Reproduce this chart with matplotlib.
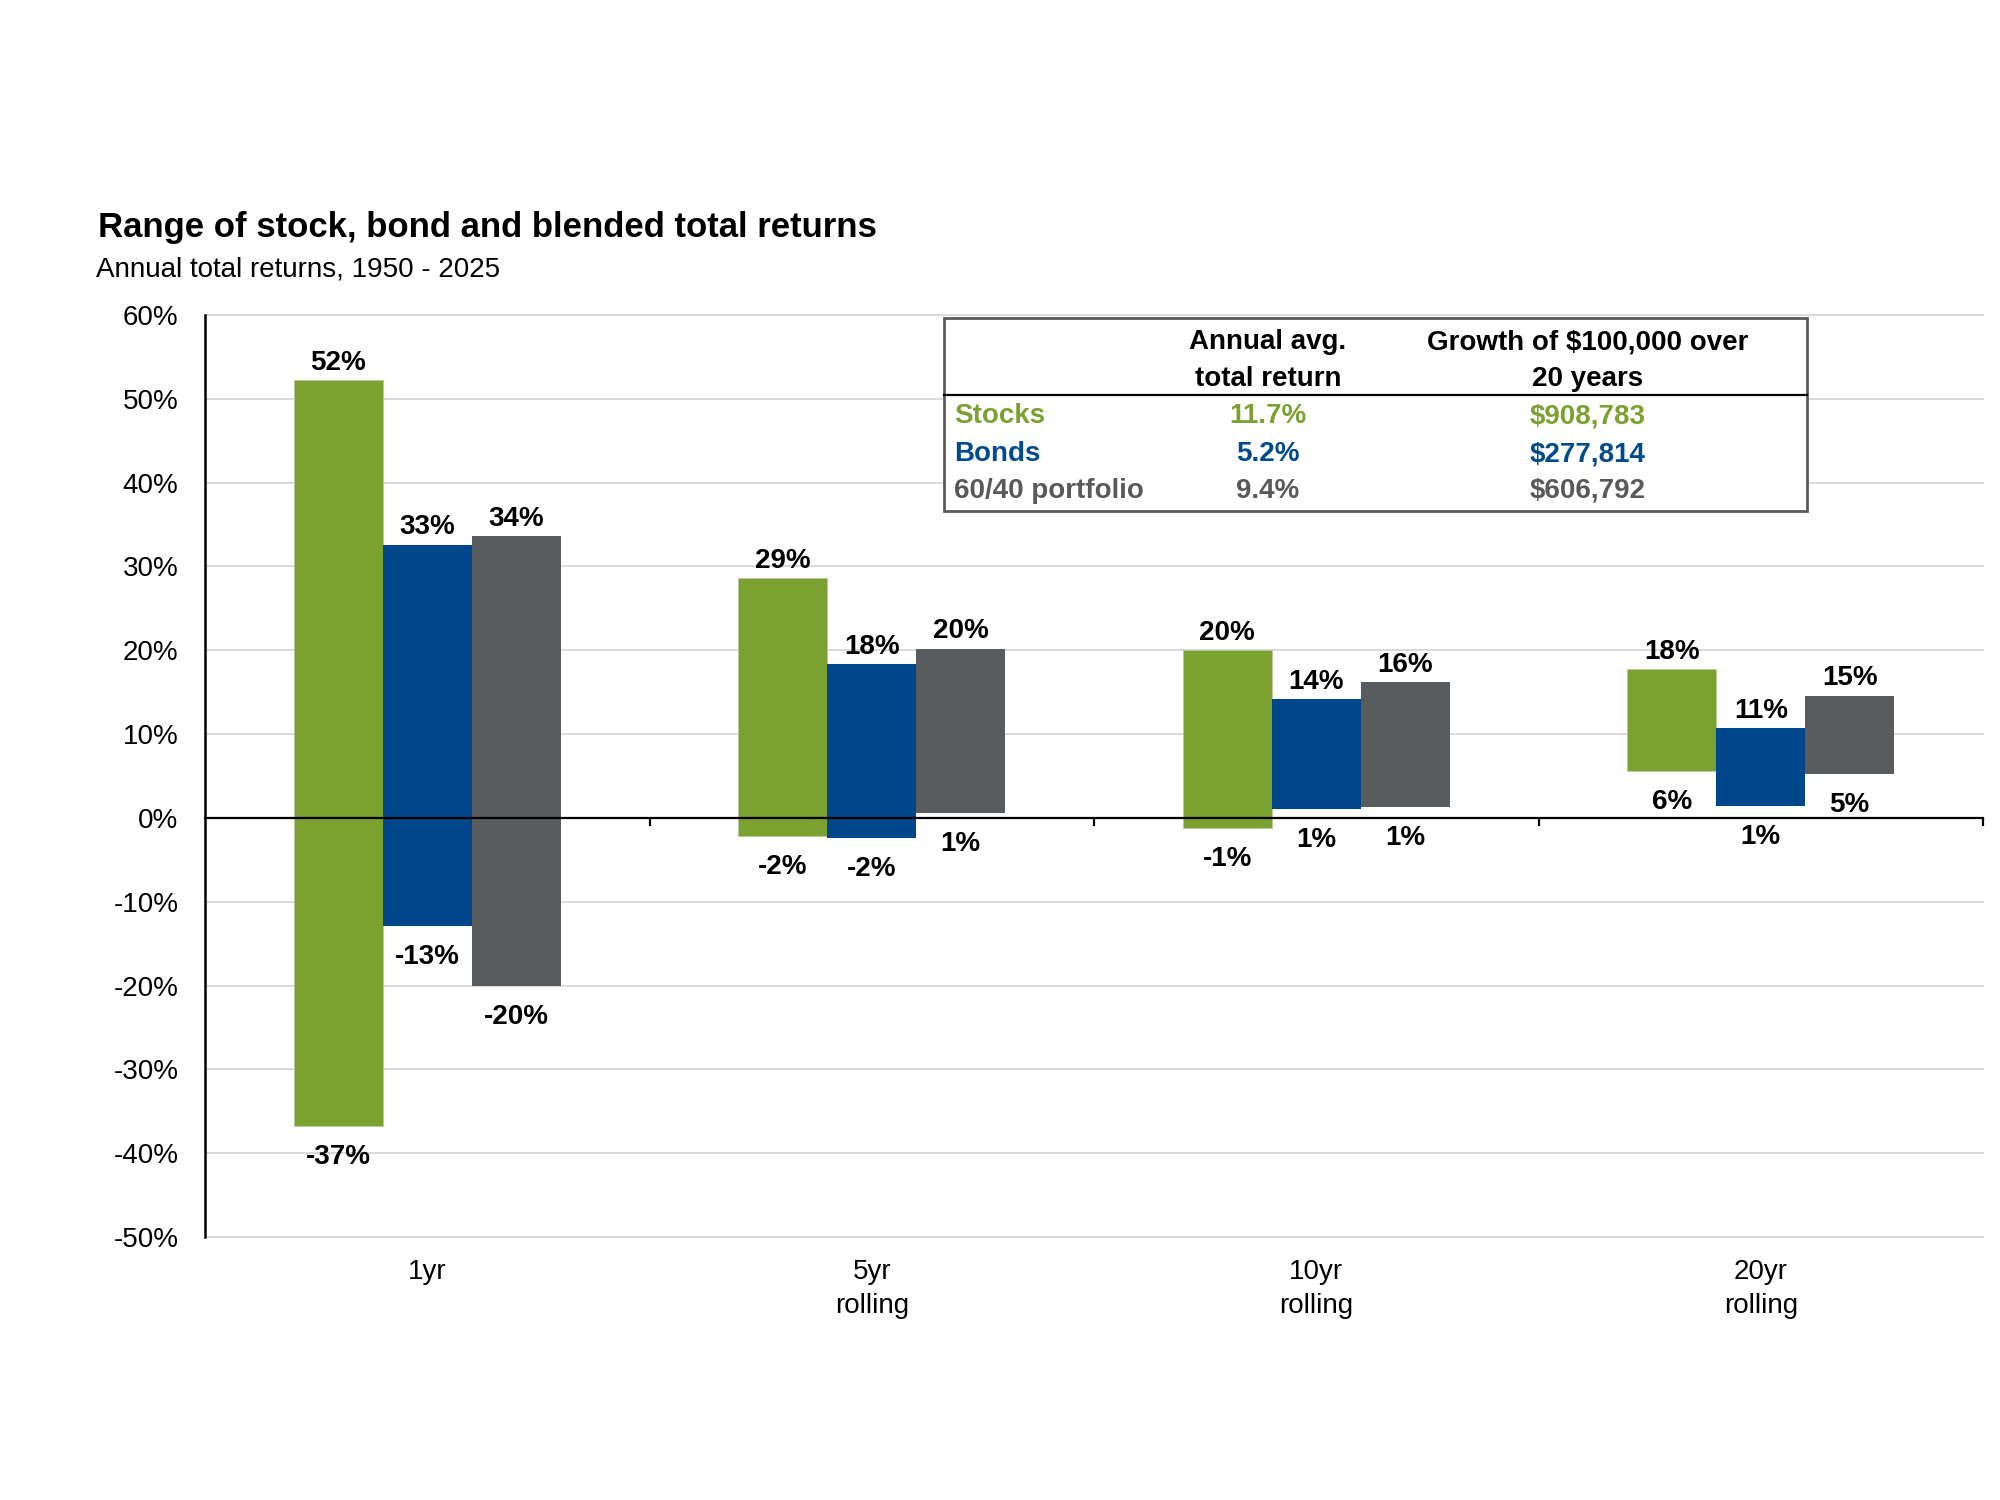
import numpy as np
import matplotlib.pyplot as plt
from matplotlib.patches import Rectangle
from matplotlib.lines import Line2D

plt.rcParams['font.family'] = ['Liberation Sans', 'DejaVu Sans']

# data (% annual total returns, 1950 - 2025)
categories = ["1yr", "5yr\nrolling", "10yr\nrolling", "20yr\nrolling"]
stocks_max = [52.2, 28.6, 20.0, 17.8]
stocks_min = [-36.8, -2.2, -1.2, 5.6]
bonds_max = [32.6, 18.4, 14.2, 10.7]
bonds_min = [-12.9, -2.4, 1.1, 1.4]
blend_max = [33.6, 20.2, 16.2, 14.6]
blend_min = [-20.1, 0.6, 1.3, 5.2]

series_names = ["Stocks", "Bonds", "60/40 portfolio"]
bar_colors = ["#7BA131", "#00468B", "#585C5F"]
text_colors = ["#7BA131", "#004A8F", "#595959"]

avg_returns = ["11.7%", "5.2%", "9.4%"]
growth_100k = ["$908,783", "$277,814", "$606,792"]

yticks = np.arange(-50, 61, 10)

W, H = 2000, 1500
fig = plt.figure(figsize=(20, 15), dpi=100, facecolor='white')
ax = fig.add_axes([205 / W, 1 - 1237 / H, (1983 - 205) / W, (1237 - 315) / H])

x = np.arange(len(categories))
bw = 0.2
highs = [stocks_max, bonds_max, blend_max]
lows = [stocks_min, bonds_min, blend_min]

for j in range(3):
    xs = x + (j - 1) * bw
    hi = np.array(highs[j])
    lo = np.array(lows[j])
    ax.bar(xs, hi - lo, bottom=lo, width=bw, color=bar_colors[j],
           edgecolor='#B8C8A0' if j == 0 else 'none', linewidth=0.6, zorder=3)
    for xi, h, l in zip(xs, hi, lo):
        ax.annotate(f"{h:.0f}%", (xi, h), xytext=(0, 3), textcoords='offset points',
                    ha='center', va='bottom', fontsize=20, fontweight='bold', zorder=4)
        ax.annotate(f"{l:.0f}%", (xi, l), xytext=(0, -13), textcoords='offset points',
                    ha='center', va='top', fontsize=20, fontweight='bold', zorder=4)

ax.set_xlim(-0.5, len(categories) - 0.5)
ax.set_ylim(-50, 60)
ax.set_yticks(yticks)
ax.set_yticklabels([f"{t}%" for t in yticks])
ax.tick_params(axis='y', length=0, pad=19, labelsize=20)
ax.yaxis.grid(True, color='#D9D9D9', linewidth=1.4, zorder=0)
for gl in ax.get_ygridlines():
    gl.set_clip_on(False)

# zero line with category boundary ticks
ax.spines['bottom'].set_position(('data', 0))
ax.spines['bottom'].set_color('black')
ax.spines['bottom'].set_linewidth(1.6)
ax.spines['bottom'].set_zorder(5)
ax.set_xticks([])
ax.set_xticks(x + 0.5, minor=True)
ax.tick_params(axis='x', which='minor', direction='out', length=6, width=1.6, color='black')
ax.spines['top'].set_visible(False)
ax.spines['right'].set_visible(False)
ax.spines['left'].set_linewidth(1.8)
ax.spines['left'].set_color('black')

for xi, lab in zip(x, categories):
    ax.annotate(lab, (xi, -50), xytext=(0, -16), textcoords='offset points',
                ha='center', va='top', fontsize=20, linespacing=1.4)

# titles
fig.text(98 / W, 1 - 237 / H, "Range of stock, bond and blended total returns",
         fontsize=25, fontweight='bold', va='baseline')
fig.text(96 / W, 1 - 277 / H, "Annual total returns, 1950 - 2025",
         fontsize=20, va='baseline')

# summary table
bx0, bx1, by0, by1 = 944, 1807, 318, 511
fig.patches.append(Rectangle((bx0 / W, 1 - by1 / H), (bx1 - bx0) / W, (by1 - by0) / H,
                             transform=fig.transFigure, facecolor='white',
                             edgecolor='#595959', linewidth=2, zorder=6))
fig.lines.append(Line2D([bx0 / W, bx1 / W], [1 - 395 / H, 1 - 395 / H],
                        transform=fig.transFigure, color='black', linewidth=1.6, zorder=7))

col1, col2 = 1268 / W, 1588 / W
fig.text(col1, 1 - 342 / H, "Annual avg.", ha='center', va='center',
         fontsize=20, fontweight='bold', zorder=8)
fig.text(col1, 1 - 379 / H, "total return", ha='center', va='center',
         fontsize=20, fontweight='bold', zorder=8)
fig.text(col2, 1 - 342 / H, "Growth of $100,000 over", ha='center', va='center',
         fontsize=20, fontweight='bold', zorder=8)
fig.text(col2, 1 - 379 / H, "20 years", ha='center', va='center',
         fontsize=20, fontweight='bold', zorder=8)

row_y = [416, 454, 491]
for name, ret, grow, c, ry in zip(series_names, avg_returns, growth_100k, text_colors, row_y):
    fig.text(954 / W, 1 - ry / H, name, ha='left', va='center', color=c,
             fontsize=20, fontweight='bold', zorder=8)
    fig.text(col1, 1 - ry / H, ret, ha='center', va='center', color=c,
             fontsize=20, fontweight='bold', zorder=8)
    fig.text(col2, 1 - ry / H, grow, ha='center', va='center', color=c,
             fontsize=20, fontweight='bold', zorder=8)

fig.savefig("out.png", dpi=100, facecolor='white')
